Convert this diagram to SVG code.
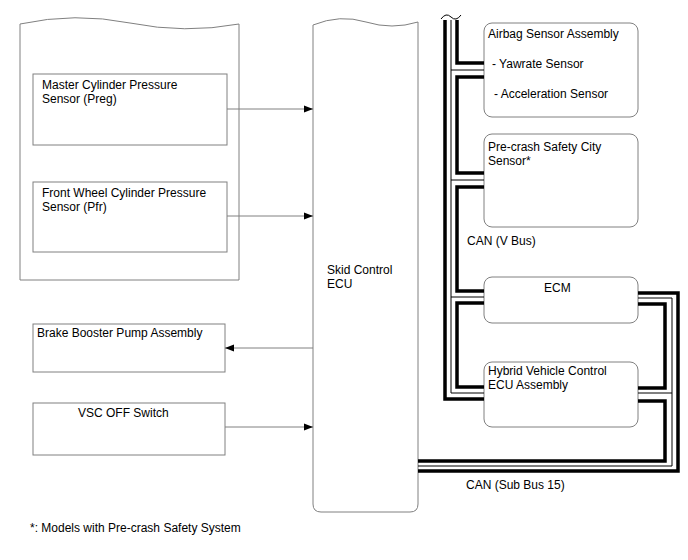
<svg xmlns="http://www.w3.org/2000/svg" width="688" height="560" viewBox="0 0 688 560">
<defs>
<marker id="ah" markerWidth="10" markerHeight="8" refX="9" refY="4" orient="auto" markerUnits="userSpaceOnUse">
<path d="M0,0.5 L9,4 L0,7.5 Z" fill="#000"/>
</marker>
<style>
text{font-family:"Liberation Sans",Arial,sans-serif;font-size:12px;fill:#000}
.box{fill:#fff;stroke:#808080;stroke-width:1}
.arr{stroke:#808080;stroke-width:1;fill:none;marker-end:url(#ah)}
.thick{stroke:#000;stroke-width:3.5;fill:none;stroke-linejoin:miter;stroke-linecap:butt}
.thin{stroke:#000;stroke-width:1;fill:none}
</style>
</defs>
<rect width="688" height="560" fill="#fff"/>

<g id="sensor-group">
<path class="box" d="M20,24 Q75,12 130,23 T239,24 L239,280 L20,280 Z"/>
</g>
<g id="master-cylinder">
<rect class="box" x="33" y="74" width="194" height="71"/>
<text x="42" y="89">Master Cylinder Pressure</text>
<text x="42" y="103">Sensor (Preg)</text>
</g>
<g id="front-wheel">
<rect class="box" x="33" y="182" width="194" height="70"/>
<text x="42" y="197">Front Wheel Cylinder Pressure</text>
<text x="42" y="211">Sensor (Pfr)</text>
</g>
<g id="brake-booster">
<rect class="box" x="33" y="324" width="192" height="48"/>
<text x="37" y="337">Brake Booster Pump Assembly</text>
</g>
<g id="vsc-off">
<rect class="box" x="33" y="403" width="192" height="52"/>
<text x="78" y="417">VSC OFF Switch</text>
</g>
<g id="skid-ecu">
<path class="box" d="M313,25 Q340,14 366,22 T418,22 L418,504 Q418,512 410,512 L321,512 Q313,512 313,504 Z"/>
<text x="327" y="274">Skid Control</text>
<text x="327" y="288">ECU</text>
</g>
<g id="airbag">
<rect class="box" x="484" y="23" width="154" height="94" rx="8"/>
<text x="488" y="38">Airbag Sensor Assembly</text>
<text x="492" y="68">- Yawrate Sensor</text>
<text x="494" y="98">- Acceleration Sensor</text>
</g>
<g id="precrash">
<rect class="box" x="484" y="134" width="154" height="93" rx="8"/>
<text x="488" y="151">Pre-crash Safety City</text>
<text x="488" y="165">Sensor*</text>
</g>
<g id="ecm">
<rect class="box" x="484" y="277" width="154" height="46" rx="8"/>
<text x="544" y="292">ECM</text>
</g>
<g id="hybrid">
<rect class="box" x="484" y="362" width="154" height="65" rx="8"/>
<text x="488" y="375">Hybrid Vehicle Control</text>
<text x="488" y="389">ECU Assembly</text>
</g>

<g id="connectors">
<line class="arr" x1="227" y1="109" x2="313" y2="109"/>
<line class="arr" x1="227" y1="216" x2="313" y2="216"/>
<line class="arr" x1="313" y1="348" x2="225" y2="348"/>
<line class="arr" x1="225" y1="427" x2="313" y2="427"/>

<path class="thin" d="M441,19 Q446,12 451,17 T461,15" stroke="#555"/>
<path class="thick" d="M445,20 V399 H484"/>
<path class="thin" d="M451,20 V393 H484 M451,70 H484 M451,180 H484 M451,297 H484"/>
<path class="thick" d="M457,20 V63 H484 M484,77 H457 V173 H484 M484,187 H457 V291 H484 M484,303 H457 V387 H484"/>

<path class="thick" d="M418,471 H678 V293 H638"/>
<path class="thin" d="M418,466 H672 V298 H638 M638,393 H672"/>
<path class="thick" d="M418,461 H665 V401 H638 M638,304 H665 V388 H638"/>
</g>

<text x="467" y="245">CAN (V Bus)</text>
<text x="466" y="489">CAN (Sub Bus 15)</text>
<text x="30" y="532">*: Models with Pre-crash Safety System</text>
</svg>
